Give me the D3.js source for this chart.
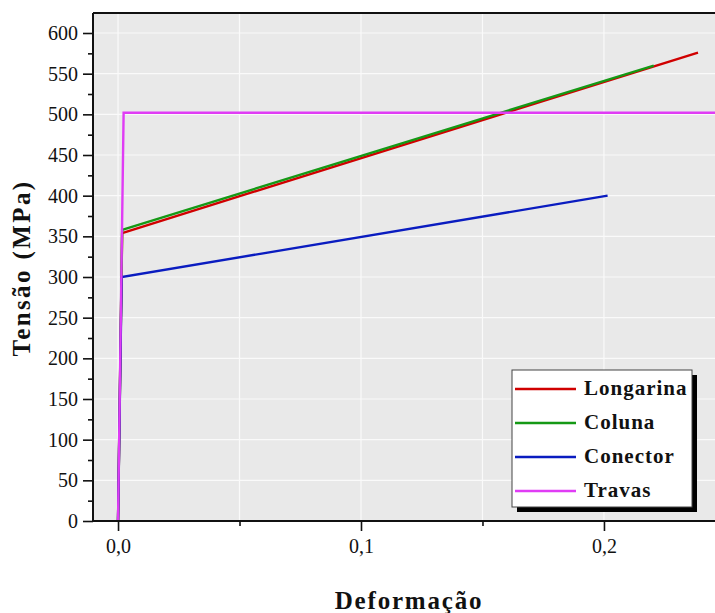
<!DOCTYPE html>
<html>
<head>
<meta charset="utf-8">
<script src="https://cdn.jsdelivr.net/npm/d3@7"></script>
<style>
  body { margin: 0; background: #fff; }
  svg text { font-family: "Liberation Serif", "DejaVu Serif", serif; fill: #111; }
</style>
</head>
<body>
<svg id="chart" width="715" height="613"></svg>
<script>
// series (strain, stress in MPa)
var seriesNames = ["Longarina", "Coluna", "Conector", "Travas"];
var seriesColors = ["#d00000", "#159915", "#0a1cc0", "#e03cf5"];
var longarina = [[0, 0], [0.0017, 354], [0.2387, 576]];
var coluna = [[0, 0], [0.0017, 358], [0.2205, 560]];
var conector = [[0, 0], [0.0015, 300], [0.2015, 400]];
var travas = [[0, 0], [0.0023, 502], [0.26, 502]];
var allSeries = [longarina, coluna, conector, travas];

var yTicks = [0, 50, 100, 150, 200, 250, 300, 350, 400, 450, 500, 550, 600];
var yMinor = [25, 75, 125, 175, 225, 275, 325, 375, 425, 475, 525, 575];
var xTicks = [0, 0.1, 0.2];
var xMinor = [0.05, 0.15];

var svg = d3.select("#chart");
var pL = 93, pT = 13, pR = 715, pB = 521;

var x = d3.scaleLinear().domain([-0.0103, 0.2457]).range([pL, pR]);
var y = d3.scaleLinear().domain([0, 624.6]).range([pB, pT]);

svg.append("defs").append("clipPath").attr("id", "clip")
  .append("rect").attr("x", pL).attr("y", pT).attr("width", pR - pL).attr("height", pB - pT);

// panel + grid
svg.append("rect").attr("x", pL).attr("y", pT).attr("width", pR - pL).attr("height", pB - pT)
  .attr("fill", "#e9e9e9");

var grid = svg.append("g").attr("stroke", "#fafafa").attr("stroke-width", 1.2);
grid.selectAll(".gy").data(yTicks).enter().append("line")
  .attr("x1", pL).attr("x2", pR)
  .attr("y1", function(d) { return y(d); }).attr("y2", function(d) { return y(d); });
grid.selectAll(".gx").data(xTicks.concat(xMinor)).enter().append("line")
  .attr("y1", pT).attr("y2", pB)
  .attr("x1", function(d) { return x(d); }).attr("x2", function(d) { return x(d); });

// lines
var line = d3.line().x(function(d) { return x(d[0]); }).y(function(d) { return y(d[1]); });
var plot = svg.append("g").attr("clip-path", "url(#clip)");
plot.selectAll("path").data(allSeries).enter().append("path")
  .attr("d", line)
  .attr("fill", "none")
  .attr("stroke", function(d, i) { return seriesColors[i]; })
  .attr("stroke-width", 2.4);

// axes
var fmt = function(d) { return d3.format(".1f")(d).replace(".", ","); };

svg.append("g").attr("transform", "translate(" + pL + ",0)")
  .call(d3.axisLeft(y).tickValues(yTicks).tickSize(10).tickPadding(5));
svg.append("g").attr("transform", "translate(" + pL + ",0)")
  .call(d3.axisLeft(y).tickValues(yMinor).tickSize(5).tickFormat(""));

svg.append("g").attr("transform", "translate(0," + pB + ")")
  .call(d3.axisBottom(x).tickValues(xTicks).tickSize(10).tickPadding(8).tickFormat(fmt));
svg.append("g").attr("transform", "translate(0," + pB + ")")
  .call(d3.axisBottom(x).tickValues(xMinor).tickSize(5).tickFormat(""));

svg.selectAll(".domain").remove();
svg.selectAll(".tick line").attr("stroke", "#111").attr("stroke-width", 1.6);
svg.selectAll(".tick text").style("font-family", "Liberation Serif, serif")
  .style("font-size", "20px").attr("fill", "#2a2a2a");

// spines
svg.append("line").attr("x1", pL).attr("x2", pL).attr("y1", pT).attr("y2", pB)
  .attr("stroke", "#111").attr("stroke-width", 2);
svg.append("line").attr("x1", pL).attr("x2", pR).attr("y1", pB).attr("y2", pB)
  .attr("stroke", "#111").attr("stroke-width", 2);
svg.append("line").attr("x1", pL).attr("x2", pR).attr("y1", pT).attr("y2", pT)
  .attr("stroke", "#111").attr("stroke-width", 2);

// titles
svg.append("text").attr("x", 409).attr("y", 609).attr("text-anchor", "middle")
  .style("font-size", "25px").style("font-weight", "bold").style("letter-spacing", "1.8px")
  .text("Deformação");
svg.append("text").attr("transform", "translate(30,268) rotate(-90)").attr("text-anchor", "middle")
  .style("font-size", "25px").style("font-weight", "bold").style("letter-spacing", "2.4px")
  .text("Tensão (MPa)");

// legend
var lg = svg.append("g").attr("transform", "translate(512,370)");
lg.append("rect").attr("x", 5).attr("y", 5).attr("width", 180).attr("height", 137).attr("fill", "#000");
lg.append("rect").attr("x", 0).attr("y", 0).attr("width", 180).attr("height", 137)
  .attr("fill", "#fff").attr("stroke", "#444").attr("stroke-width", 1);
var items = lg.selectAll(".item").data(seriesNames).enter().append("g")
  .attr("transform", function(d, i) { return "translate(0," + (19 + i * 34) + ")"; });
items.append("line").attr("x1", 3).attr("x2", 64).attr("y1", 0).attr("y2", 0)
  .attr("stroke", function(d, i) { return seriesColors[i]; }).attr("stroke-width", 2.4);
items.append("text").attr("x", 72).attr("y", 6)
  .style("font-size", "21px").style("font-weight", "bold").style("letter-spacing", "1px")
  .text(function(d) { return d; });
</script>
</body>
</html>
